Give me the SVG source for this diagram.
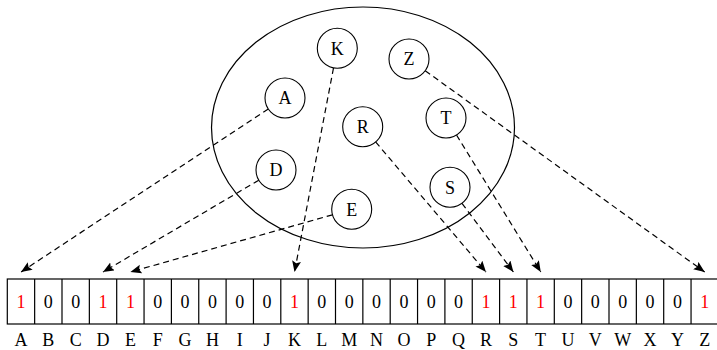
<svg xmlns="http://www.w3.org/2000/svg" width="717" height="350" viewBox="0 0 717 350">
<style>
.t{font-family:"Liberation Serif","DejaVu Serif",serif;font-size:18px;text-anchor:middle;fill:#000}
.r{fill:#ff0000}
.n circle{fill:#fff;stroke:#000;stroke-width:1.1}
.e{fill:none;stroke:#000;stroke-width:1.2;stroke-dasharray:6 4;marker-end:url(#ah)}
.cell{fill:#fff;stroke:#000;stroke-width:1.2}
</style>
<defs>
<marker id="ah" markerUnits="userSpaceOnUse" markerWidth="12" markerHeight="10" refX="11" refY="4.5" orient="auto">
<path d="M0,0 L11,4.5 L0,9 L2,4.5 z" fill="#000" stroke="none"/>
</marker>
</defs>
<g id="set">
<ellipse cx="363" cy="127.5" rx="151.5" ry="120.5" fill="none" stroke="#000" stroke-width="1.2"/>
</g>
<g id="connectors">
<line class="e" x1="268.3" y1="109" x2="21" y2="272"/>
<line class="e" x1="258.8" y1="180.2" x2="103" y2="272"/>
<line class="e" x1="332.5" y1="214.8" x2="130.4" y2="272"/>
<line class="e" x1="333.5" y1="68" x2="294.5" y2="272"/>
<line class="e" x1="375.6" y1="141.9" x2="486" y2="272"/>
<line class="e" x1="462" y1="203.3" x2="513.4" y2="272"/>
<line class="e" x1="456.5" y1="135" x2="540.8" y2="272"/>
<line class="e" x1="425.2" y1="70.7" x2="704.7" y2="272"/>
</g>
<g id="node-K" class="n"><circle cx="337.3" cy="48.3" r="20"/><text class="t" x="337.3" y="54.5">K</text></g>
<g id="node-Z" class="n"><circle cx="409" cy="59" r="20"/><text class="t" x="409" y="65.2">Z</text></g>
<g id="node-A" class="n"><circle cx="285" cy="98" r="20"/><text class="t" x="285" y="104.2">A</text></g>
<g id="node-R" class="n"><circle cx="362.7" cy="126.7" r="20"/><text class="t" x="362.7" y="132.9">R</text></g>
<g id="node-T" class="n"><circle cx="446" cy="118" r="20"/><text class="t" x="446" y="124.2">T</text></g>
<g id="node-D" class="n"><circle cx="276" cy="170" r="20"/><text class="t" x="276" y="176.2">D</text></g>
<g id="node-S" class="n"><circle cx="450" cy="187.3" r="20"/><text class="t" x="450" y="193.5">S</text></g>
<g id="node-E" class="n"><circle cx="351.7" cy="209.3" r="20"/><text class="t" x="351.7" y="215.5">E</text></g>
<g id="array">
<rect class="cell" x="7.3" y="279" width="711.1" height="45"/>
<path fill="none" stroke="#000" stroke-width="1.2" d="M34.65,279V324M62,279V324M89.35,279V324M116.7,279V324M144.05,279V324M171.4,279V324M198.75,279V324M226.1,279V324M253.45,279V324M280.8,279V324M308.15,279V324M335.5,279V324M362.85,279V324M390.2,279V324M417.55,279V324M444.9,279V324M472.25,279V324M499.6,279V324M526.95,279V324M554.3,279V324M581.65,279V324M609,279V324M636.35,279V324M663.7,279V324M691.05,279V324"/>
<g class="t">
<text x="21" y="308" class="t r">1</text>
<text x="48.3" y="308" class="t">0</text>
<text x="75.7" y="308" class="t">0</text>
<text x="103" y="308" class="t r">1</text>
<text x="130.4" y="308" class="t r">1</text>
<text x="157.7" y="308" class="t">0</text>
<text x="185.1" y="308" class="t">0</text>
<text x="212.4" y="308" class="t">0</text>
<text x="239.8" y="308" class="t">0</text>
<text x="267.1" y="308" class="t">0</text>
<text x="294.5" y="308" class="t r">1</text>
<text x="321.8" y="308" class="t">0</text>
<text x="349.2" y="308" class="t">0</text>
<text x="376.5" y="308" class="t">0</text>
<text x="403.9" y="308" class="t">0</text>
<text x="431.2" y="308" class="t">0</text>
<text x="458.6" y="308" class="t">0</text>
<text x="485.9" y="308" class="t r">1</text>
<text x="513.3" y="308" class="t r">1</text>
<text x="540.6" y="308" class="t r">1</text>
<text x="568" y="308" class="t">0</text>
<text x="595.3" y="308" class="t">0</text>
<text x="622.7" y="308" class="t">0</text>
<text x="650" y="308" class="t">0</text>
<text x="677.4" y="308" class="t">0</text>
<text x="704.7" y="308" class="t r">1</text>
</g>
<g>
<text x="21" y="346" class="t">A</text>
<text x="48.3" y="346" class="t">B</text>
<text x="75.7" y="346" class="t">C</text>
<text x="103" y="346" class="t">D</text>
<text x="130.4" y="346" class="t">E</text>
<text x="157.7" y="346" class="t">F</text>
<text x="185.1" y="346" class="t">G</text>
<text x="212.4" y="346" class="t">H</text>
<text x="239.8" y="346" class="t">I</text>
<text x="267.1" y="346" class="t">J</text>
<text x="294.5" y="346" class="t">K</text>
<text x="321.8" y="346" class="t">L</text>
<text x="349.2" y="346" class="t">M</text>
<text x="376.5" y="346" class="t">N</text>
<text x="403.9" y="346" class="t">O</text>
<text x="431.2" y="346" class="t">P</text>
<text x="458.6" y="346" class="t">Q</text>
<text x="485.9" y="346" class="t">R</text>
<text x="513.3" y="346" class="t">S</text>
<text x="540.6" y="346" class="t">T</text>
<text x="568" y="346" class="t">U</text>
<text x="595.3" y="346" class="t">V</text>
<text x="622.7" y="346" class="t">W</text>
<text x="650" y="346" class="t">X</text>
<text x="677.4" y="346" class="t">Y</text>
<text x="704.7" y="346" class="t">Z</text>
</g>
</g>
</svg>
